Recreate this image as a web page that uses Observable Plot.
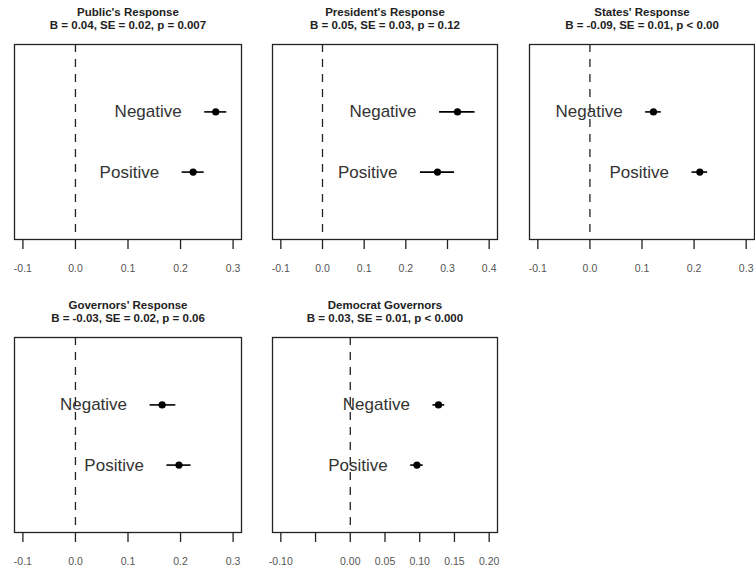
<!DOCTYPE html>
<html><head><meta charset="utf-8">
<script src="https://cdn.jsdelivr.net/npm/d3@7"></script>
<script src="https://cdn.jsdelivr.net/npm/@observablehq/plot@0.6"></script>
<style>
html,body{margin:0;padding:0;background:#fff;overflow:hidden}
#wrap{position:relative;width:755px;height:569px;overflow:hidden}
#wrap > svg, #wrap > figure{position:absolute;margin:0}
</style></head><body><div id="wrap"></div>
<script>
// ---- data ----
const titles = ["Public's Response", "President's Response", "States' Response", "Governors' Response", "Democrat Governors"];
const subtitles = ["B = 0.04, SE = 0.02, p = 0.007", "B = 0.05, SE = 0.03, p = 0.12", "B = -0.09, SE = 0.01, p < 0.00", "B = -0.03, SE = 0.02, p = 0.06", "B = 0.03, SE = 0.01, p < 0.000"];
const categories = ["Negative", "Positive"];
const categoryRow = [2, 1];
// per panel: [Negative, Positive]
const estimates = [[0.267, 0.224], [0.324, 0.276], [0.122, 0.211], [0.165, 0.197], [0.127, 0.096]];
const lowerCI   = [[0.246, 0.203], [0.281, 0.235], [0.107, 0.196], [0.142, 0.174], [0.119, 0.087]];
const upperCI   = [[0.288, 0.245], [0.366, 0.317], [0.137, 0.226], [0.191, 0.220], [0.136, 0.105]];
const xLimits = [[-0.1, 0.3], [-0.1, 0.4], [-0.1, 0.3], [-0.1, 0.3], [-0.1, 0.2]];
const tickValues = [
  [-0.1, 0, 0.1, 0.2, 0.3],
  [-0.1, 0, 0.1, 0.2, 0.3, 0.4],
  [-0.1, 0, 0.1, 0.2, 0.3],
  [-0.1, 0, 0.1, 0.2, 0.3],
  [-0.1, -0.05, 0, 0.05, 0.1, 0.15, 0.2]
];
const tickLabels = [
  ["-0.1", "0.0", "0.1", "0.2", "0.3"],
  ["-0.1", "0.0", "0.1", "0.2", "0.3", "0.4"],
  ["-0.1", "0.0", "0.1", "0.2", "0.3"],
  ["-0.1", "0.0", "0.1", "0.2", "0.3"],
  ["-0.10", "", "0.00", "0.05", "0.10", "0.15", "0.20"]
];
const yLimits = [0, 3];

// ---- layout (frame left, frame top, frame right) ----
const frames = [[14, 44, 240.5], [272, 44, 497], [529, 44, 754], [14, 337, 240.5], [272, 337, 497]];
const frameHeight = 195;
const mL = 10, mR = 10, mT = 44, mB = 51;
const font = "'Liberation Sans', Arial, Helvetica, sans-serif";

const wrap = document.getElementById("wrap");

function expand([a, b]) { const r = (b - a) * 0.04; return [a - r, b + r]; }

titles.forEach((title, p) => {
  const data = categories.map((c, i) => ({
    category: c, row: categoryRow[i], est: estimates[p][i], lo: lowerCI[p][i], hi: upperCI[p][i]
  }));
  const labelMap = new Map(tickValues[p].map((v, i) => [v, tickLabels[p][i]]));
  const [fl, ft, fr] = frames[p];
  const width = Math.round(fr - fl) + mL + mR;
  const chart = Plot.plot({
    width, height: frameHeight + mT + mB,
    marginLeft: mL, marginRight: mR, marginTop: mT, marginBottom: mB,
    style: {fontFamily: font, background: "transparent", overflow: "visible"},
    x: {domain: expand(xLimits[p])},
    y: {domain: expand(yLimits), axis: null},
    marks: [
      Plot.ruleX([0], {stroke: "#222", strokeWidth: 1.3, strokeDasharray: "8,7"}),
      Plot.ruleY(data, {y: "row", x1: "lo", x2: "hi", stroke: "#000", strokeWidth: 1.6}),
      Plot.dot(data, {x: "est", y: "row", r: 3.6, fill: "#000", stroke: null}),
      Plot.text(data, {x: "lo", y: "row", text: "category", textAnchor: "end", dx: -23, fontSize: 17, fill: "#333"}),
      Plot.frame({stroke: "#222", strokeWidth: 1.3}),
      Plot.axisX({ticks: tickValues[p], tickFormat: d => labelMap.get(d), tickSize: 10, tickPadding: 15,
                  fontSize: 10.5, stroke: "#222", fill: "#555", label: null, strokeWidth: 1.3}),
      Plot.text([title], {frameAnchor: "top", dy: -32, lineAnchor: "middle", fontWeight: "bold", fontSize: 11.5, fill: "#222"}),
      Plot.text([subtitles[p]], {frameAnchor: "top", dy: -19, lineAnchor: "middle", fontWeight: "bold", fontSize: 11.5, fill: "#222"})
    ]
  });
  chart.style.left = (fl - mL) + "px";
  chart.style.top = (ft - mT) + "px";
  wrap.appendChild(chart);
});
</script>
</body></html>
